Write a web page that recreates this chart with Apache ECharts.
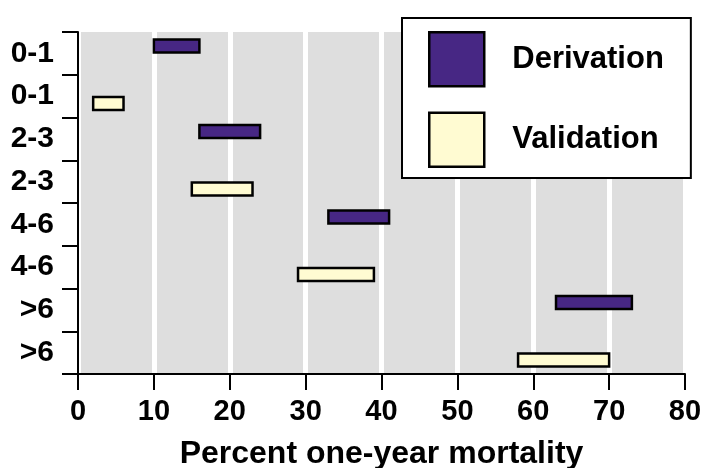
<!DOCTYPE html>
<html><head><meta charset="utf-8">
<script src="https://cdn.jsdelivr.net/npm/echarts@6/dist/echarts.min.js"></script>
<style>html,body{margin:0;padding:0;background:#fff}#c{width:704px;height:468px}</style>
</head><body><div id="c"></div>
<script>
const categories = ['0-1','0-1','2-3','2-3','4-6','4-6','>6','>6'];
const derivationRows = [0, 2, 4, 6];
const derivationStart = [10, 16, 33, 63];
const derivationEnd = [16, 24, 41, 73];
const validationRows = [1, 3, 5, 7];
const validationStart = [2, 15, 29, 58];
const validationEnd = [6, 23, 39, 70];
const xMin = 0, xMax = 80, xStep = 10;
const axisTitle = 'Percent one-year mortality';

const F = '"Liberation Sans", Arial, Helvetica, sans-serif';

function rows(r, s, e) { return r.map((v, i) => [v, s[i], e[i]]); }

function makeRender(dir) {
  return function (params, api) {
    const row = api.value(0);
    const a = api.coord([api.value(1), row]);
    const b = api.coord([api.value(2), row]);
    const band = api.size([0, 1])[1];
    const h = 13;
    const cy = a[1] + dir * band * 0.175;
    return {
      type: 'rect',
      shape: { x: a[0], y: cy - h / 2, width: b[0] - a[0], height: h },
      style: api.style({ stroke: '#000', lineWidth: 2.5 })
    };
  };
}

const chart = echarts.init(document.getElementById('c'));
chart.setOption({
  animation: false,
  textStyle: { fontFamily: F },
  grid: { left: 78, right: 19, top: 32, bottom: 94, show: true, backgroundColor: '#dedede', borderWidth: 0, containLabel: false, outerBoundsMode: 'none' },
  legend: {
    orient: 'vertical', left: 402, top: 18, icon: 'rect',
    itemWidth: 55, itemHeight: 54, itemGap: 24,
    padding: [13, 27, 10, 26],
    backgroundColor: '#fff', borderColor: '#000', borderWidth: 2,
    itemStyle: { borderColor: '#000', borderWidth: 2.5 },
    textStyle: { fontSize: 31, fontWeight: 'bold', color: '#000', fontFamily: F, padding: [0, 0, 0, 23] },
    data: ['Derivation', 'Validation']
  },
  xAxis: {
    type: 'value', min: xMin, max: xMax, interval: xStep,
    name: axisTitle, nameLocation: 'middle', nameGap: 64,
    nameTextStyle: { fontSize: 32, fontWeight: 'bold', color: '#000', fontFamily: F },
    axisLine: { show: true, lineStyle: { color: '#000', width: 2 } },
    axisTick: { show: true, length: 16, lineStyle: { color: '#000', width: 2 } },
    axisLabel: { fontSize: 29, fontWeight: 'bold', color: '#000', margin: 23, fontFamily: F },
    splitLine: { show: true, lineStyle: { color: '#fff', width: 5 } }
  },
  yAxis: {
    type: 'category', data: categories, inverse: true,
    axisLine: { show: true, lineStyle: { color: '#000', width: 2 } },
    axisTick: { show: true, length: 16, lineStyle: { color: '#000', width: 2 } },
    axisLabel: { fontSize: 30, fontWeight: 'bold', color: '#000', margin: 24, fontFamily: F, padding: [4, 0, 0, 0] },
    splitLine: { show: false }
  },
  series: [
    {
      name: 'Derivation', type: 'custom', renderItem: makeRender(-1),
      itemStyle: { color: '#472784', borderColor: '#000', borderWidth: 2.5 },
      encode: { x: [1, 2], y: 0 },
      data: rows(derivationRows, derivationStart, derivationEnd)
    },
    {
      name: 'Validation', type: 'custom', renderItem: makeRender(1),
      itemStyle: { color: '#fffbd2', borderColor: '#000', borderWidth: 2.5 },
      encode: { x: [1, 2], y: 0 },
      data: rows(validationRows, validationStart, validationEnd)
    }
  ]
});
</script></body></html>
